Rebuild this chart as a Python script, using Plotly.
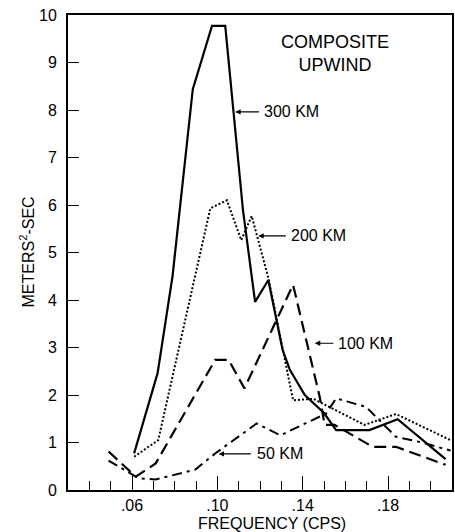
import plotly.graph_objects as go

# ---- data ----
f300 = [0.061, 0.072, 0.079, 0.0885, 0.0975, 0.1037, 0.112, 0.1177, 0.1239, 0.1306, 0.134, 0.141, 0.150, 0.1557, 0.1713, 0.1845, 0.207]
v300 = [0.77, 2.46, 4.5, 8.44, 9.77, 9.77, 5.9, 3.96, 4.42, 2.95, 2.53, 2.0, 1.62, 1.26, 1.26, 1.49, 0.65]

f200 = [0.061, 0.0723, 0.0967, 0.1045, 0.1112, 0.1161, 0.124, 0.1286, 0.1355, 0.145, 0.169, 0.1837, 0.2093]
v200 = [0.70, 1.05, 5.93, 6.10, 5.26, 5.77, 4.45, 3.44, 1.89, 1.92, 1.37, 1.60, 1.05]

f100 = [0.049, 0.0618, 0.0711, 0.099, 0.1053, 0.1127, 0.1355, 0.148, 0.1503, 0.155, 0.1728, 0.1837, 0.207]
v100 = [0.81, 0.28, 0.56, 2.74, 2.74, 2.14, 4.32, 1.96, 1.37, 1.37, 0.91, 0.91, 0.53]

f50 = [0.049, 0.063, 0.071, 0.0897, 0.099, 0.1184, 0.1295, 0.151, 0.1557, 0.1697, 0.1837, 0.196, 0.2093]
v50 = [0.62, 0.25, 0.22, 0.43, 0.77, 1.40, 1.15, 1.61, 1.93, 1.75, 1.12, 1.00, 0.83]

x_tickvals = [0.06, 0.10, 0.14, 0.18]
x_ticktext = [".06", ".10", ".14", ".18"]
y_tickvals = list(range(0, 11))

FONT = "Liberation Sans"

fig = go.Figure()
fig.add_trace(go.Scatter(x=f300, y=v300, mode="lines", line=dict(color="black", width=2.2)))
fig.add_trace(go.Scatter(x=f200, y=v200, mode="lines", line=dict(color="black", width=2, dash="2px,2px")))
fig.add_trace(go.Scatter(x=f100, y=v100, mode="lines", line=dict(color="black", width=2.2, dash="12px,6px")))
fig.add_trace(go.Scatter(x=f50, y=v50, mode="lines", line=dict(color="black", width=2, dash="10px,5px,3px,5px")))

labels = [
    # tip (x, y), tail x, text x, label
    (0.1084, 7.96, 0.1202, 0.1211, "300 KM"),
    (0.1192, 5.35, 0.1328, 0.1337, "200 KM"),
    (0.1457, 3.09, 0.1551, 0.1557, "100 KM"),
    (0.1006, 0.76, 0.1164, 0.1177, "50 KM"),
]
for tx, ty, ax, lx, txt in labels:
    fig.add_annotation(x=tx, y=ty, ax=ax, ay=ty, axref="x", ayref="y", xref="x", yref="y",
                       text="", showarrow=True, arrowhead=2, arrowsize=0.9, arrowwidth=1.2,
                       arrowcolor="black")
    fig.add_annotation(x=lx, y=ty, xref="x", yref="y", text=txt, showarrow=False,
                       xanchor="left", yanchor="middle",
                       font=dict(family=FONT, size=16, color="black"))

fig.add_annotation(x=0.1551, y=9.18, xref="x", yref="y", text="COMPOSITE<br>UPWIND",
                   showarrow=False, xanchor="center", yanchor="middle",
                   font=dict(family=FONT, size=18, color="black"))

# axis titles as annotations for precise placement
fig.add_annotation(x=0.5, y=0, xref="paper", yref="paper", yshift=-33, xshift=12,
                   text="FREQUENCY (CPS)", showarrow=False, xanchor="center", yanchor="middle",
                   font=dict(family=FONT, size=16, color="black"))
fig.add_annotation(x=0, y=0.5, xref="paper", yref="paper", xshift=-41,
                   text="METERS<sup>2</sup>-SEC", showarrow=False, textangle=-90,
                   xanchor="center", yanchor="middle",
                   font=dict(family=FONT, size=16, color="black"))

fig.update_layout(
    width=455, height=532,
    margin=dict(l=68, r=1, t=15, b=42),
    paper_bgcolor="white", plot_bgcolor="white",
    showlegend=False,
    font=dict(family=FONT, size=16, color="black"),
)
fig.update_xaxes(
    range=[0.03, 0.21], showgrid=False, zeroline=False,
    showline=True, linecolor="black", linewidth=2, mirror=True,
    tickmode="array", tickvals=x_tickvals, ticktext=x_ticktext,
    ticks="inside", ticklen=14, tickwidth=1.2, tickcolor="black",
    minor=dict(dtick=0.01, tick0=0.03, ticks="inside", ticklen=9, tickwidth=1.2, tickcolor="black", showgrid=False),
    tickfont=dict(family=FONT, size=16),
)
fig.update_yaxes(
    range=[0, 10], showgrid=False, zeroline=False,
    showline=True, linecolor="black", linewidth=2, mirror=True,
    tickmode="array", tickvals=y_tickvals,
    ticks="inside", ticklen=11, tickwidth=1.2, tickcolor="black",
    tickfont=dict(family=FONT, size=16),
    ticklabelstandoff=6,
)

fig.write_html("out.html", config={"displayModeBar": False},
               post_script="document.body.style.margin='0px';document.body.style.overflow='hidden';")
